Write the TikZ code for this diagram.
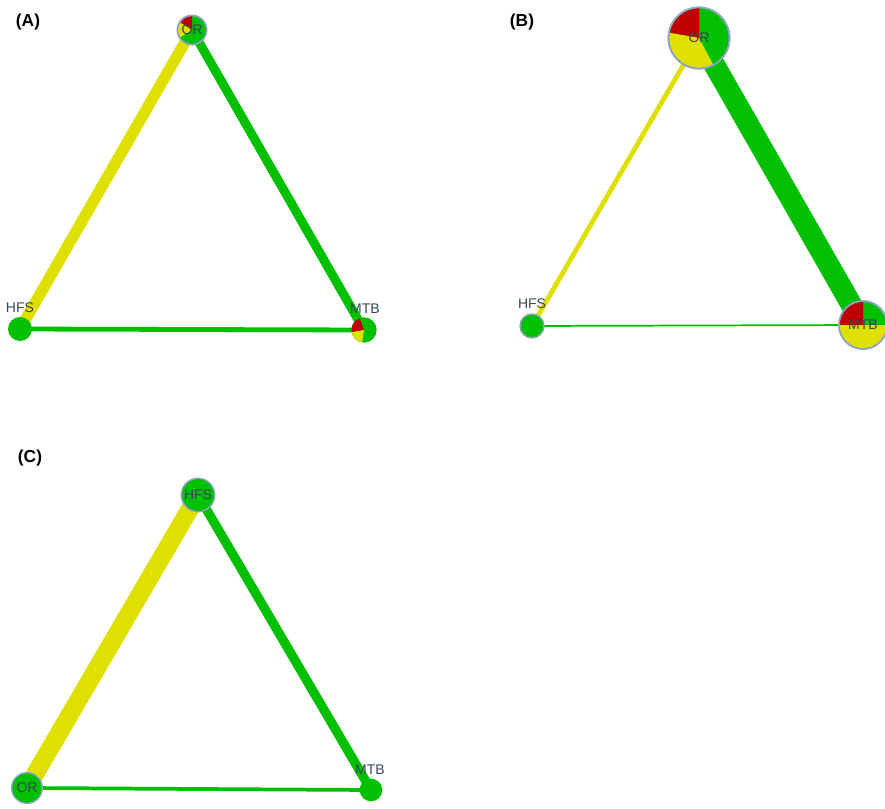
\documentclass[tikz,border=0pt]{standalone}
\usepackage{fontspec}
\setmainfont{Liberation Sans}
\definecolor{ngreen}{RGB}{0,192,0}
\definecolor{nyellow}{RGB}{224,224,0}
\definecolor{nred}{RGB}{192,0,0}
\definecolor{nborder}{RGB}{140,165,195}
\definecolor{nlabel}{RGB}{55,70,90}
\begin{document}
\begin{tikzpicture}[x=0.75pt,y=-0.75pt,
  gedge/.style={draw=ngreen},
  yedge/.style={draw=nyellow},
  vnode/.style={circle,inner sep=0pt,fill=ngreen,draw=nborder,line width=1.1pt},
  plainnode/.style={circle,inner sep=0pt,fill=ngreen,draw=none},
  vlabel/.style={text=nlabel,font=\fontsize{10.5}{12}\selectfont},
  panel/.style={font=\bfseries\fontsize{13}{15}\selectfont,anchor=center}]
\useasboundingbox (0,0) rectangle (885,809);
% pie helper: centre, radius (px), visual start/end angles (ccw), colour
\newcommand{\piesl}[5]{\fill[#5] (#1) -- ++(-#3:#2) arc[start angle=-#3,end angle=-#4,radius=#2] -- cycle;}

% ---------------- Panel A ----------------
\node[panel] (labA) at (28,22) {(A)};
\coordinate (aOR) at (192,30);
\coordinate (aHFS) at (20,329);
\coordinate (aMTB) at (364,330);
\draw[yedge,line width=8.5pt] (aOR) -- (aHFS);
\draw[gedge,line width=6.8pt] (aOR) -- (aMTB);
\draw[gedge,line width=3.6pt] (aHFS) -- (aMTB);
\node[vnode,minimum size=22pt] (nAOR) at (aOR) {};
\piesl{aOR}{14}{90}{148}{nred}
\piesl{aOR}{14}{148}{212}{nyellow}
\draw[nborder,line width=1.1pt] (aOR) circle[radius=14.5];
\node[vlabel] (tAOR) at (192,30) {OR};
\node[plainnode,minimum size=18pt] (nAHFS) at (aHFS) {};
\node[vlabel,anchor=south] (tAHFS) at (20,317) {HFS};
\node[plainnode,minimum size=19pt] (nAMTB) at (aMTB) {};
\piesl{aMTB}{12.5}{110}{190}{nred}
\piesl{aMTB}{12.5}{190}{262}{nyellow}
\node[vlabel,anchor=south] (tAMTB) at (365,318) {MTB};

% ---------------- Panel B ----------------
\node[panel] (labB) at (522,22) {(B)};
\coordinate (bOR) at (699,38);
\coordinate (bHFS) at (532,326);
\coordinate (bMTB) at (863,325);
\draw[yedge,line width=3.6pt] (bOR) -- (bHFS);
\draw[gedge,line width=16pt] (bOR) -- (bMTB);
\draw[gedge,line width=1.3pt] (bHFS) -- (bMTB);
\node[vnode,minimum size=46pt] (nBOR) at (bOR) {};
\piesl{bOR}{30}{90}{170}{nred}
\piesl{bOR}{30}{170}{298}{nyellow}
\draw[nborder,line width=1.3pt] (bOR) circle[radius=30.5];
\node[vlabel] (tBOR) at (699,38) {OR};
\node[vnode,minimum size=18pt] (nBHFS) at (bHFS) {};
\node[vlabel,anchor=south] (tBHFS) at (532,313) {HFS};
\node[vnode,minimum size=36pt] (nBMTB) at (bMTB) {};
\piesl{bMTB}{23.5}{90}{180}{nred}
\piesl{bMTB}{23.5}{180}{360}{nyellow}
\draw[nborder,line width=1.3pt] (bMTB) circle[radius=24];
\node[vlabel] (tBMTB) at (863,325) {MTB};

% ---------------- Panel C ----------------
\node[panel] (labC) at (30,458) {(C)};
\coordinate (cHFS) at (198,495);
\coordinate (cOR) at (27,788);
\coordinate (cMTB) at (371,790);
\draw[yedge,line width=13.5pt] (cHFS) -- (cOR);
\draw[gedge,line width=7pt] (cHFS) -- (cMTB);
\draw[gedge,line width=2.8pt] (cOR) -- (cMTB);
\node[vnode,minimum size=25pt] (nCHFS) at (cHFS) {};
\node[vlabel] (tCHFS) at (198,495) {HFS};
\node[vnode,minimum size=23pt] (nCOR) at (cOR) {};
\node[vlabel] (tCOR) at (27,788) {OR};
\node[plainnode,minimum size=17pt] (nCMTB) at (cMTB) {};
\node[vlabel,anchor=south] (tCMTB) at (370,779) {MTB};
\end{tikzpicture}
\end{document}
